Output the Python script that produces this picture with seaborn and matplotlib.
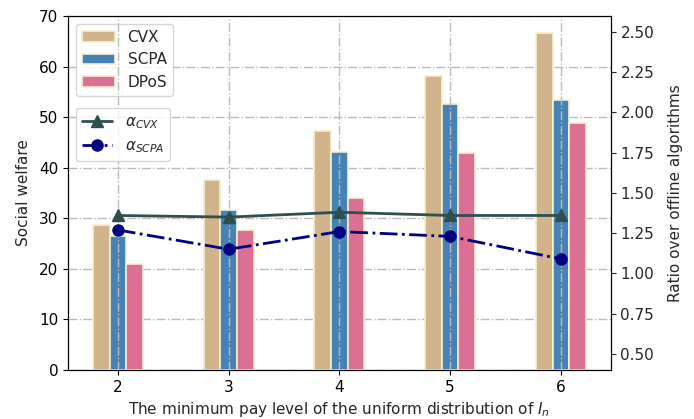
import seaborn as sns
import matplotlib.pyplot as plt
import pandas as pd
import numpy as np

levels = [2, 3, 4, 5, 6]
cvx = [28.6, 37.5, 47.2, 58.2, 66.6]
scpa = [26.5, 31.7, 43.1, 52.5, 53.3]
dpos = [20.9, 27.7, 34.0, 42.8, 48.8]
alpha_cvx = [1.36, 1.35, 1.38, 1.36, 1.36]
alpha_scpa = [1.27, 1.15, 1.26, 1.23, 1.09]

sns.set_style("ticks")
plt.rcParams['font.family'] = ['DejaVu Sans']
plt.rcParams['font.size'] = 11

bars = pd.DataFrame({
    "level": levels * 3,
    "welfare": cvx + scpa + dpos,
    "algo": ["CVX"] * 5 + ["SCPA"] * 5 + ["DPoS"] * 5,
})
palette = {"CVX": "#d2b48c", "SCPA": "#4682b4", "DPoS": "#db7093"}

fig, ax = plt.subplots(figsize=(6.94, 4.19), dpi=100)
fig.subplots_adjust(left=0.098, right=0.880, top=0.962, bottom=0.117)

sns.barplot(data=bars, x="level", y="welfare", hue="algo",
            hue_order=["CVX", "SCPA", "DPoS"], palette=palette,
            native_scale=True, width=0.45, saturation=1, errorbar=None,
            edgecolor="#f5f0d0", linewidth=1.2, ax=ax)
ax.set_ylim(0, 70)
ax.set_xlim(1.55, 6.45)
ax.set_xticks(levels)
ax.set_xlabel("The minimum pay level of the uniform distribution of $I_n$", fontsize=11)
ax.set_ylabel("Social welfare", fontsize=11, labelpad=6)
ax.tick_params(labelsize=11, colors="black")
ax.grid(axis="y", color="#bbbbbb", linestyle="-.", linewidth=1)
ax.legend(loc="upper left", fontsize=11, handlelength=2.2)

ax2 = ax.twinx()
ax2.plot(levels, alpha_cvx, color="#2f4f4f", marker="^", markersize=8,
         linewidth=2, label=r"$\alpha_{CVX}$")
ax2.plot(levels, alpha_scpa, color="#000080", marker="o", markersize=8,
         linewidth=2, linestyle="-.", label=r"$\alpha_{SCPA}$")
ax2.set_ylim(0.4, 2.6)
ax2.set_yticks(np.arange(0.5, 2.51, 0.25))
ax2.set_ylabel("Ratio over offline algorithms", fontsize=11, labelpad=10)
ax2.tick_params(labelsize=11)

# vertical grid drawn over the bars
ax2.xaxis.set_visible(True)
ax2.tick_params(axis="x", bottom=False, top=False, labelbottom=False, labeltop=False)
ax2.xaxis.grid(True, color="#bbbbbb", linestyle="-.", linewidth=1)
ax2.legend(loc="upper left", bbox_to_anchor=(0.0, 0.762), fontsize=11)

for a in (ax, ax2):
    for s in a.spines.values():
        s.set_color("black")

fig.savefig("out.png", dpi=100)
